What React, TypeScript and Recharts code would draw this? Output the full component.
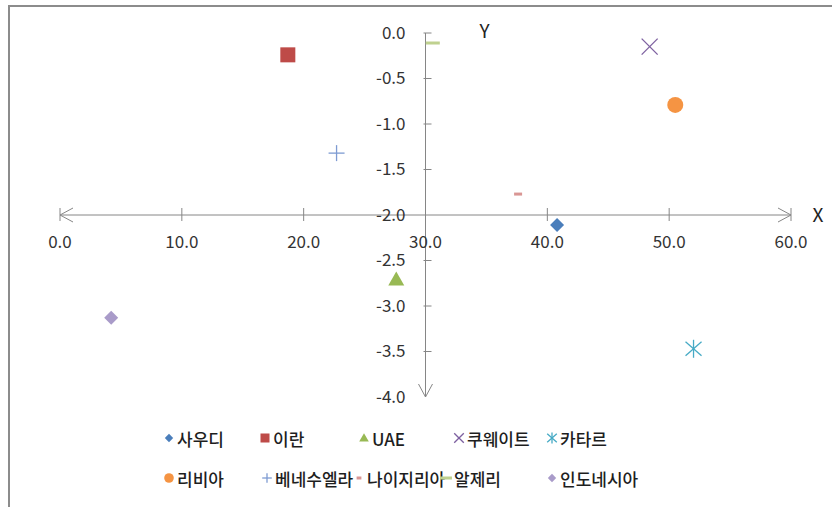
import React from 'react';
import {
  ScatterChart, Scatter, XAxis, YAxis, ReferenceLine, ReferenceDot,
} from 'recharts';

// ─── data ────────────────────────────────────────────────────
const countries = ['사우디', '이란', 'UAE', '쿠웨이트', '카타르', '리비아', '베네수엘라', '나이지리아', '알제리', '인도네시아'];
const xValues = [40.8, 18.7, 27.6, 48.4, 52.0, 50.5, 22.7, 37.6, 30.6, 4.2];
const yValues = [-2.11, -0.24, -2.71, -0.15, -3.47, -0.79, -1.32, -1.77, -0.11, -3.13];
const markers = ['diamond', 'square', 'triangle', 'x', 'star', 'circle', 'plus', 'dash', 'longdash', 'diamond'];
const colors = ['#4A7EBB', '#BE4B48', '#98B954', '#7D60A0', '#46AAC5', '#F59443', '#7E9BD2', '#D99694', '#BFD18F', '#A99BC9'];

const xTicks = [0, 10, 20, 30, 40, 50, 60];
const yTicks = [0, -0.5, -1, -1.5, -2, -2.5, -3, -3.5, -4];
const X_CROSS = 30;
const Y_CROSS = -2;

const W = 832;
const H = 507;
const AXIS = '#868686';
const TEXT = '#333';
const FONT = '"Noto Sans CJK KR", "Noto Sans", sans-serif';

// legend item left edges, per row
const legendRows = [
  { top: 428, items: [0, 1, 2, 3, 4], left: [163, 259, 358, 453, 546] },
  { top: 468, items: [5, 6, 7, 8, 9], left: [163, 261, 353, 440, 546] },
];

function Marker({ kind, cx, cy, color, s = 1 }: { kind: string; cx: number; cy: number; color: string; s?: number }) {
  switch (kind) {
    case 'diamond':
      return <polygon points={`${cx},${cy - 7 * s} ${cx + 7 * s},${cy} ${cx},${cy + 7 * s} ${cx - 7 * s},${cy}`} fill={color} />;
    case 'square':
      return <rect x={cx - 7.5 * s} y={cy - 7.5 * s} width={15 * s} height={15 * s} fill={color} />;
    case 'triangle':
      return <polygon points={`${cx},${cy - 8 * s} ${cx + 8 * s},${cy + 6 * s} ${cx - 8 * s},${cy + 6 * s}`} fill={color} />;
    case 'x':
      return (
        <g stroke={color} strokeWidth={1.3}>
          <line x1={cx - 8 * s} y1={cy - 8 * s} x2={cx + 8 * s} y2={cy + 8 * s} />
          <line x1={cx - 8 * s} y1={cy + 8 * s} x2={cx + 8 * s} y2={cy - 8 * s} />
        </g>
      );
    case 'star':
      return (
        <g stroke={color} strokeWidth={1.3}>
          <line x1={cx - 8 * s} y1={cy - 7 * s} x2={cx + 8 * s} y2={cy + 7 * s} />
          <line x1={cx - 8 * s} y1={cy + 7 * s} x2={cx + 8 * s} y2={cy - 7 * s} />
          <line x1={cx} y1={cy - 9 * s} x2={cx} y2={cy + 9 * s} />
        </g>
      );
    case 'circle':
      return <circle cx={cx} cy={cy} r={8 * s} fill={color} />;
    case 'plus':
      return (
        <g stroke={color} strokeWidth={1.3}>
          <line x1={cx - 8 * s} y1={cy} x2={cx + 8 * s} y2={cy} />
          <line x1={cx} y1={cy - 8 * s} x2={cx} y2={cy + 8 * s} />
        </g>
      );
    case 'dash':
      return <rect x={cx - 4 * s} y={cy - 1.5} width={8 * s} height={3} fill={color} />;
    case 'longdash':
      return <rect x={cx - 7 * s} y={cy - 1.5} width={14 * s} height={3} fill={color} />;
    default:
      return null;
  }
}

const arrow = (tx: number, ty: number, dx: number, dy: number) => {
  // open arrowhead, tip at (tx,ty), pointing along (dx,dy)
  const len = 13, half = 7;
  const bx = tx - dx * len, by = ty - dy * len;
  const px = -dy * half, py = dx * half;
  return <polyline points={`${bx + px},${by + py} ${tx},${ty} ${bx - px},${by - py}`} fill="none" stroke={AXIS} strokeWidth={1} />;
};

export default function App() {
  return (
    <div style={{ position: 'absolute', left: 0, top: 0, width: W, height: H, overflow: 'hidden', background: '#fff', fontFamily: FONT }}>
      <div style={{ position: 'absolute', left: 8, top: 5, width: W, height: H, borderLeft: '2px solid #8c8c8c', borderTop: '2px solid #8c8c8c' }} />
      <ScatterChart width={W} height={H} margin={{ top: 33, right: 41, bottom: 110, left: 60 }} style={{ position: 'absolute', left: 0, top: 0 }}>
        <XAxis type="number" dataKey="x" domain={[0, 60]} hide />
        <YAxis type="number" dataKey="y" domain={[-4, 0]} hide />
        <ReferenceLine
          y={Y_CROSS}
          shape={(p: any) => (
            <g>
              <line x1={p.x1} y1={p.y1} x2={p.x2} y2={p.y2} stroke={AXIS} />
              {arrow(Math.min(p.x1, p.x2), p.y1, -1, 0)}
              {arrow(Math.max(p.x1, p.x2), p.y1, 1, 0)}
              <text x={Math.max(p.x1, p.x2) + 27} y={p.y1} dy="0.35em" textAnchor="middle" fontSize={19} fill="#222" fontFamily={FONT}>X</text>
            </g>
          )}
        />
        <ReferenceLine
          x={X_CROSS}
          shape={(p: any) => (
            <g>
              <line x1={p.x1} y1={p.y1} x2={p.x2} y2={p.y2} stroke={AXIS} />
              {arrow(p.x1, Math.max(p.y1, p.y2), 0, 1)}
              <text x={p.x1 + 59} y={Math.min(p.y1, p.y2) - 2} dy="0.35em" textAnchor="middle" fontSize={19} fill="#222" fontFamily={FONT}>Y</text>
            </g>
          )}
        />
        {xTicks.map((t) => (
          <ReferenceDot
            key={'x' + t}
            x={t}
            y={Y_CROSS}
            shape={(p: any) => (
              <g>
                {t !== X_CROSS && <line x1={p.cx} y1={p.cy - 7} x2={p.cx} y2={p.cy + 6} stroke={AXIS} />}
                <text x={p.cx} y={p.cy + 27} dy="0.35em" textAnchor="middle" fontSize={17} fill={TEXT} fontFamily={FONT}>{t.toFixed(1)}</text>
              </g>
            )}
          />
        ))}
        {yTicks.map((t) => (
          <ReferenceDot
            key={'y' + t}
            x={X_CROSS}
            y={t}
            shape={(p: any) => (
              <g>
                {t !== Y_CROSS && t !== -4 && <line x1={p.cx - 2} y1={p.cy} x2={p.cx + 6} y2={p.cy} stroke={AXIS} />}
                <text x={p.cx - 20} y={p.cy} dy="0.35em" textAnchor="end" fontSize={17} fill={TEXT} fontFamily={FONT}>{t.toFixed(1)}</text>
              </g>
            )}
          />
        ))}
        {countries.map((name, i) => (
          <Scatter
            key={name}
            name={name}
            data={[{ x: xValues[i], y: yValues[i] }]}
            isAnimationActive={false}
            shape={(p: any) => <Marker kind={markers[i]} cx={p.cx} cy={p.cy} color={colors[i]} />}
          />
        ))}
      </ScatterChart>
      {legendRows.map((row, r) => (
        <div key={r}>
          {row.items.map((idx, k) => (
            <div key={idx} style={{ position: 'absolute', left: row.left[k], top: row.top, height: 20, display: 'flex', alignItems: 'center', fontSize: 17, fontWeight: 500, color: '#1e1e1e', whiteSpace: 'nowrap' }}>
              <svg width={12} height={20} style={{ marginRight: 2 }}>
                <Marker kind={markers[idx]} cx={6} cy={10} color={colors[idx]} s={markers[idx] === 'longdash' ? 0.85 : 0.6} />
              </svg>
              <span>{countries[idx]}</span>
            </div>
          ))}
        </div>
      ))}
    </div>
  );
}
